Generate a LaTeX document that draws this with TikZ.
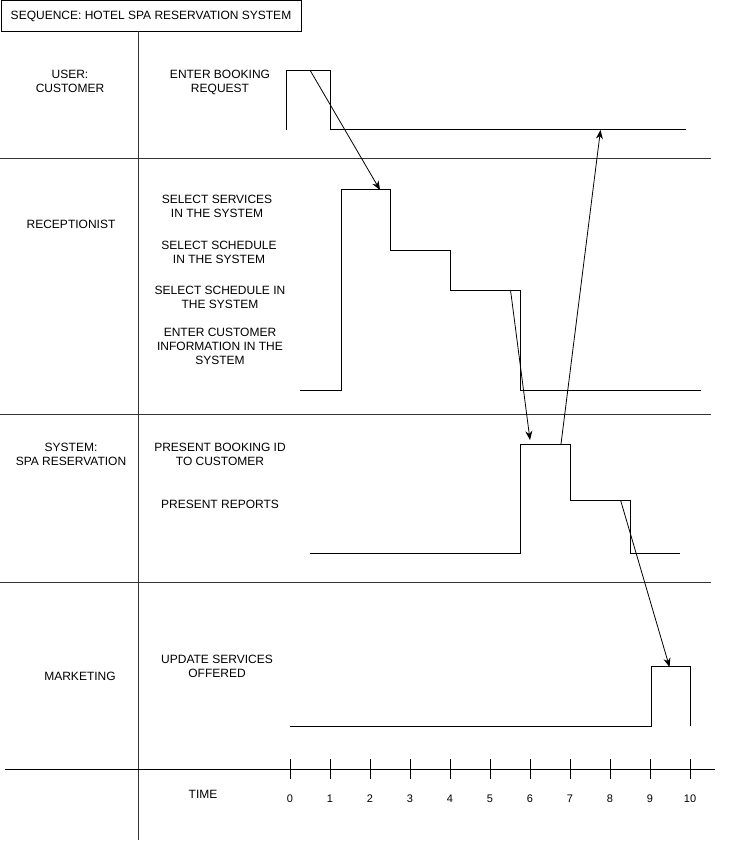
\documentclass[tikz,border=0pt]{standalone}
\usepackage{fontspec}
\setmainfont{Liberation Sans}
\usetikzlibrary{arrows.meta}
\begin{document}
\begin{tikzpicture}[x=1pt,y=-1pt,
  lbl/.style={align=center,inner sep=0pt,font=\fontsize{12}{14}\selectfont},
  wave/.style={line width=1pt,line join=miter},
  rule/.style={line width=1pt,black!80},
  msg/.style={line width=0.8pt,-{Stealth[length=9pt,width=7pt]}},
  tick/.style={line width=1pt}]
\useasboundingbox (0,0) rectangle (729,842);
% title
\node[draw,line width=1pt,minimum width=300pt,minimum height=31pt,anchor=north west,
  inner sep=0pt,font=\fontsize{12}{14}\selectfont] (title) at (0.5,0.5) {SEQUENCE: HOTEL SPA RESERVATION SYSTEM};
% frame lines
\coordinate (vtop) at (138,31);
\coordinate (vbot) at (138,840);
\draw[rule] (vtop) -- (vbot);
\coordinate (h1l) at (0,159); \coordinate (h1r) at (711,159);
\coordinate (h2l) at (0,414); \coordinate (h2r) at (711,414);
\coordinate (h3l) at (0,582); \coordinate (h3r) at (711,582);
\coordinate (axl) at (5,769); \coordinate (axr) at (715,769);
\draw[rule] (h1l) -- (h1r);
\draw[rule] (h2l) -- (h2r);
\draw[rule] (h3l) -- (h3r);
\draw[line width=1pt] (axl) -- (axr);
% ticks
\foreach \i in {0,...,10}{
  \coordinate (t\i) at ({290+40*\i},769);
  \draw[tick] ([yshift=-10pt]t\i) -- ([yshift=10pt]t\i);
  \node[lbl,font=\fontsize{11}{13}\selectfont] (tl\i) at ({290+40*\i},799) {\i};
}
% lane labels
\node[lbl] (user) at (70,81) {USER:\\CUSTOMER};
\node[lbl] (recep) at (71,224) {RECEPTIONIST};
\node[lbl] (sys) at (71,454) {SYSTEM:\\SPA RESERVATION};
\node[lbl] (mkt) at (80,676) {MARKETING};
\node[lbl] (time) at (203,794) {TIME};
% activity labels
\node[lbl] (a1) at (220,82.5) {ENTER BOOKING\\REQUEST};
\node[lbl] (a2) at (217,206) {SELECT SERVICES\\IN THE SYSTEM};
\node[lbl] (a3) at (219,252.5) {SELECT SCHEDULE\\IN THE SYSTEM};
\node[lbl] (a4) at (220,297.5) {SELECT SCHEDULE IN\\THE SYSTEM};
\node[lbl] (a5) at (220,346) {ENTER CUSTOMER\\INFORMATION IN THE\\SYSTEM};
\node[lbl] (a6) at (220,454.5) {PRESENT BOOKING ID\\TO CUSTOMER};
\node[lbl] (a7) at (220,504.5) {PRESENT REPORTS};
\node[lbl] (a8) at (217,666.5) {UPDATE SERVICES\\OFFERED};
% waveforms
\draw[wave] (286,130) -- (286,71) -- (330,71) -- (330,130) -- (686,130);
\draw[wave] (300,390) -- (341,390) -- (341,190) -- (390,190) -- (390,250)
  -- (450,250) -- (450,290) -- (520,290) -- (520,390) -- (701,390);
\draw[wave] (310,553) -- (520,553) -- (520,444) -- (570,444) -- (570,500)
  -- (630,500) -- (630,553) -- (680,553);
\draw[wave] (290,726) -- (651,726) -- (651,666) -- (690,666) -- (690,726);
% message points
\coordinate (m1s) at (310.5,71);
\coordinate (m1e) at (380,190);
\coordinate (m2s) at (510.5,290);
\coordinate (m2e) at (530,440);
\coordinate (m3s) at (561,444);
\coordinate (m3e) at (600.5,130);
\coordinate (m4s) at (620.5,500);
\coordinate (m4e) at (669.5,667);
\draw[msg] (m1s) -- (m1e);
\draw[msg] (m2s) -- (m2e);
\draw[msg] (m3s) -- (m3e);
\draw[msg] (m4s) -- (m4e);
\end{tikzpicture}
\end{document}
